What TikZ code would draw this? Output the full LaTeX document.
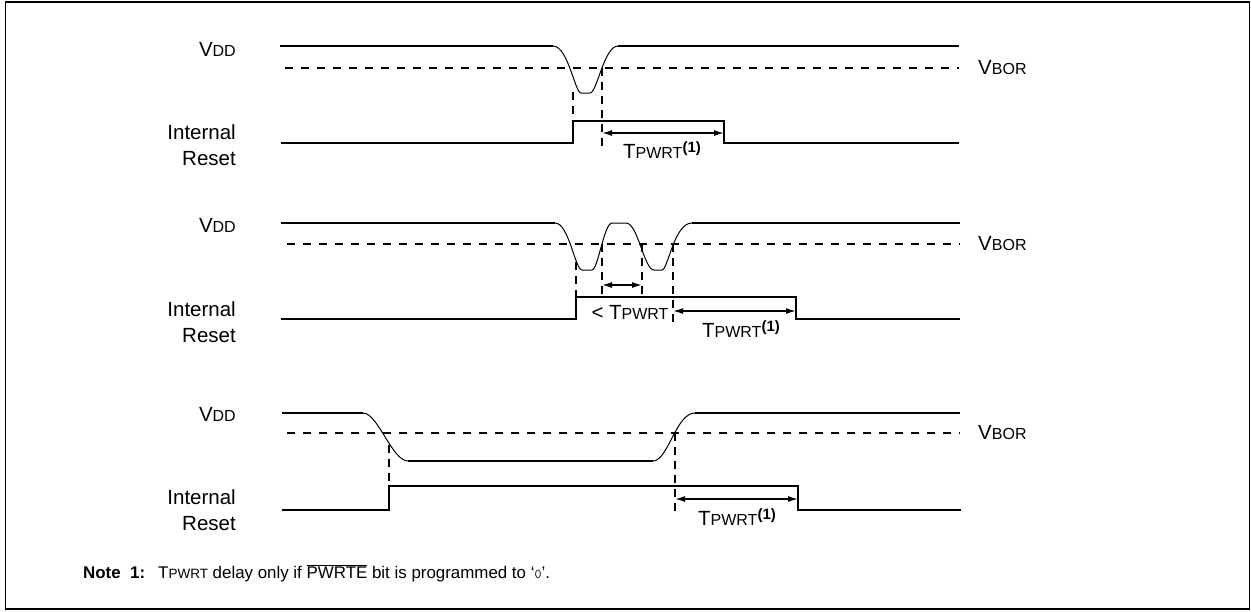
\documentclass[tikz,border=0pt]{standalone}
\usepackage{fontspec}
\setmainfont{Liberation Sans}
\usetikzlibrary{arrows.meta}
\newcommand{\smc}[1]{{\fontsize{16}{16}\selectfont #1}}
\newcommand{\smn}[1]{{\fontsize{13.5}{14}\selectfont #1}}
\newcommand{\VDD}{V\smc{DD}}
\newcommand{\VBOR}{V\smc{BOR}}
\newcommand{\TPW}{T\smc{PWRT}}
\newcommand{\TPWnote}{T\smn{PWRT}}
\newcommand{\TPWn}{T\smc{PWRT}\raisebox{0.55ex}{\fontsize{15}{15}\selectfont\bfseries (1)}}
\begin{document}
\begin{tikzpicture}[x=1pt,y=-1pt,
  sig/.style={line width=2pt},
  thinc/.style={line width=1pt},
  dsh/.style={line width=1.6pt, dash pattern=on 8pt off 8pt},
  vdsh/.style={line width=1.6pt, dash pattern=on 8pt off 6pt},
  arr/.style={line width=1.5pt, {Latex[length=10pt,width=6pt]}-{Latex[length=10pt,width=6pt]}},
  lbl/.style={inner sep=0pt, font=\fontsize{20.5}{26}\selectfont},
  notef/.style={inner sep=0pt, font=\fontsize{16.9}{20}\selectfont},
  frame/.style={line width=1.5pt}]
\useasboundingbox (0,0) rectangle (1251,611);
\draw[frame] (5.5,2) rectangle (1249.5,609);

% ---------- Panel 1 ----------
\node[lbl, anchor=east] (vdd1) at (236,49) {\VDD};
\node[lbl, anchor=east, align=right] (ir1) at (236,145) {Internal\\Reset};
\node[lbl, anchor=west] (vbor1) at (978,68) {\VBOR};
\draw[sig] (280,46) -- (553,46);
\draw[thinc] (553,46) .. controls (568,46) and (575,93) .. (581,93) -- (590,93)
  .. controls (597,93) and (604,46) .. (618,46);
\draw[sig] (618,46) -- (959,46);
\draw[dsh] (285,68) -- (959,68);
\draw[sig] (281,143) -- (573,143) -- (573,121) -- (724,121) -- (724,143) -- (959,143);
\draw[vdsh] (573,92) -- (573,121);
\draw[vdsh] (602,68) -- (602,148);
\coordinate (a1s) at (602,133);
\coordinate (a1e) at (724,133);
\draw[arr] (a1s) -- (a1e);
\node[lbl, anchor=base] (tp1) at (662,158) {\TPWn};

% ---------- Panel 2 ----------
\node[lbl, anchor=east] (vdd2) at (236,225) {\VDD};
\node[lbl, anchor=east, align=right] (ir2) at (236,322) {Internal\\Reset};
\node[lbl, anchor=west] (vbor2) at (978,244) {\VBOR};
\draw[sig] (281,223) -- (555,223);
\draw[thinc] (555,223) .. controls (569,223) and (575,270) .. (582,270) -- (592,270)
  .. controls (598,270) and (604,223) .. (612,223) -- (626,223)
  .. controls (638,223) and (644,270) .. (654,270) -- (662,270)
  .. controls (668,270) and (674,223) .. (692,223);
\draw[sig] (692,223) -- (960,223);
\draw[dsh] (287,244) -- (960,244);
\draw[sig] (281,319) -- (576,319) -- (576,297) -- (796,297) -- (796,319) -- (960,319);
\draw[vdsh] (576,262) -- (576,297);
\draw[vdsh] (602,244) -- (602,297);
\draw[vdsh] (642,244) -- (642,297);
\draw[vdsh] (673,244) -- (673,323);
\coordinate (a2s) at (602,285);
\coordinate (a2e) at (642,285);
\draw[arr] (a2s) -- (a2e);
\coordinate (a3s) at (673,311);
\coordinate (a3e) at (796,311);
\draw[arr] (a3s) -- (a3e);
\node[lbl, anchor=base] (ltp) at (630,319) {< \TPW};
\node[lbl, anchor=base] (tp2) at (741,337) {\TPWn};

% ---------- Panel 3 ----------
\node[lbl, anchor=east] (vdd3) at (236,414) {\VDD};
\node[lbl, anchor=east, align=right] (ir3) at (236,510) {Internal\\Reset};
\node[lbl, anchor=west] (vbor3) at (978,433) {\VBOR};
\draw[sig] (282,413) -- (363,413);
\draw[thinc] (363,413) .. controls (378,413) and (392,461) .. (408,461);
\draw[sig] (408,461) -- (653,461);
\draw[thinc] (653,461) .. controls (668,461) and (676,413) .. (695,413);
\draw[sig] (695,413) -- (960,413);
\draw[dsh] (287,433) -- (960,433);
\draw[sig] (282,510) -- (389,510) -- (389,486) -- (798,486) -- (798,510) -- (961,510);
\draw[vdsh] (389,445) -- (389,486);
\draw[vdsh] (675,433) -- (675,512);
\coordinate (a4s) at (675,499);
\coordinate (a4e) at (798,499);
\draw[arr] (a4s) -- (a4e);
\node[lbl, anchor=base] (tp3) at (737,525) {\TPWn};

% ---------- Note ----------
\node[notef, anchor=base west, font=\fontsize{16.9}{20}\selectfont\bfseries] (note) at (83,578) {Note\ \ 1:};
\node[notef, anchor=base west] (notetext) at (158,578)
  {\TPWnote{} delay only if $\overline{\hbox{PWRTE}}$ bit is programmed to ‘{\ttfamily\fontsize{13.5}{13.5}\selectfont 0}’.};
\end{tikzpicture}
\end{document}
